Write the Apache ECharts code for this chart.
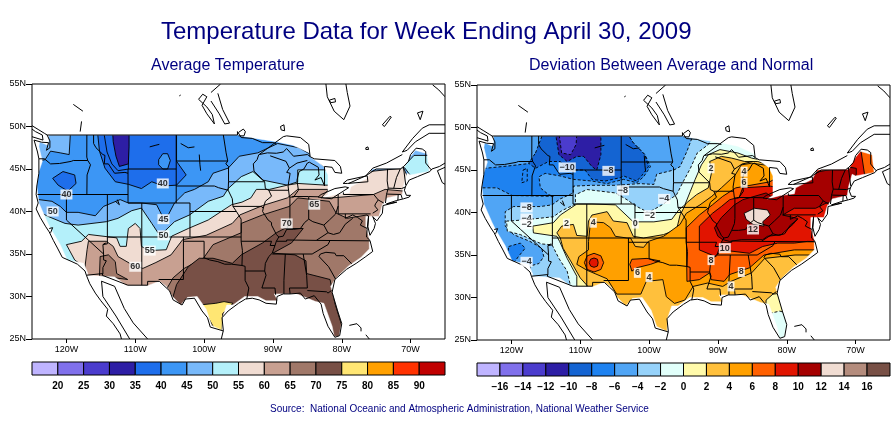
<!DOCTYPE html>
<html>
<head>
<meta charset="utf-8">
<title>Temperature Data</title>
<script src="https://cdn.jsdelivr.net/npm/echarts@6/dist/echarts.min.js"></script>
<style>
html, body { margin: 0; padding: 0; background: #fff; }
#chart { width: 895px; height: 423px; }
</style>
</head>
<body>
<div id="chart"></div>
<script>
var FONT = '"Liberation Sans", Arial, sans-serif';

// colour bars
var avgTicks = ['20','25','30','35','40','45','50','55','60','65','70','75','80','85','90'];
var devTicks = ['−16','−14','−12','−10','−8','−6','−4','−2','0','2','4','6','8','10','12','14','16'];
var avgColors = ['#bfb4ff','#8070eb','#4b3ccd','#2d1ea5','#1e6eeb','#3c96f5','#78b9fa','#b4f0fa','#f0dcd2','#c8a091','#a07869','#785046','#ffe673','#ffa000','#ff3200','#c00000'];
var devColors = ['#bfb4ff','#8070eb','#4b3ccd','#2d1ea5','#1464d2','#1e82f0','#50a5f5','#96d2fa','#e1fffa','#fffaaa','#ffc03c','#ffa000','#ff6000','#e11400','#a50000','#f0dcd2','#b48c7d','#785046'];

var lonTicks = [-120, -110, -100, -90, -80, -70];
var latTicks = [25, 30, 35, 40, 45, 50, 55];
var mapExtent = [[-125,25],[-65,25],[-65,55],[-125,55]];

// average temperature contours, [lon, lat], each one encloses the warmer (or colder) side
var avgWarm45 = [[-125.5,41],[-124,41.4],[-122.1,41.2],[-120.9,40.6],[-120,39.9],[-118.3,39.9],[-115.8,39.5],[-114.6,40.6],[-112.2,41.4],[-111,41],[-109.1,41],[-106.9,40.8],[-106.4,40],[-105.9,39.2],[-105.2,39.6],[-104.3,41],[-102.8,42.2],[-101.4,42.6],[-99.4,43.5],[-98.7,44.5],[-96.5,45.1],[-94.9,46.5],[-92.2,46.9],[-89.3,48],[-86.2,47.5],[-84.5,46.7],[-82.6,45.3],[-81.4,45.7],[-71.7,48.8],[-64.4,48.8],[-64.4,24],[-125.5,24]];
var avgWash45 = [[-125.5,49.5],[-119.4,49.5],[-119.6,46.7],[-120.9,46.9],[-122.3,47.1],[-123.1,46.1],[-125.5,45.7]];
var avgCold40 = [[-115.5,49.5],[-115.2,47.1],[-114.4,45.1],[-112.9,43.5],[-111,43.2],[-109.1,42.7],[-107.6,43.5],[-105.9,43],[-104,43.1],[-102.6,44.3],[-104,45.9],[-104,49.5]];
var avgOregon40 = [[-122,43.9],[-120.5,44.7],[-118.8,44.3],[-118.6,43.3],[-119.8,42.4],[-121.2,43.1]];
var avgMontana = [[-106.6,46.1],[-106,46.8],[-105.3,46.8],[-104.9,46],[-105.3,45],[-106,45],[-106.6,45.5]];
var avgInner = [[-114.6,49.5],[-114.1,47],[-113.4,45.6],[-112.5,44.8],[-111,45],[-111,49.5]];
var avgCold35 = [[-113.3,49.5],[-110.9,49.5],[-110.9,47.6],[-111,45.6],[-112.3,45.3],[-112.8,46.5],[-113.2,48.2]];
var avgWarm50 = [[-125.5,39.8],[-123.6,39.8],[-122.6,39.4],[-120.2,38.6],[-118.3,38.4],[-114.2,38.8],[-112.5,39.2],[-110.5,40.1],[-109.1,40.4],[-107.6,38.6],[-106.7,37.5],[-105.7,37.7],[-104.3,38.8],[-102.1,39.6],[-99.4,41.2],[-97.2,41.8],[-96.5,42.7],[-94.6,44.1],[-92.9,44.7],[-91.5,43.7],[-87.9,43.1],[-86.4,43.5],[-86.4,44.9],[-82.6,44.9],[-81.4,44.9],[-79,43.3],[-64.4,43.3],[-64.4,24],[-125.5,24]];
var avgMaine50 = [[-71,45.3],[-69.5,46.6],[-67.4,46.6],[-67.2,44.3],[-70,44.2]];
var avgWarm55 = [[-117.5,24],[-117.5,33.5],[-118.8,34.3],[-120,36.1],[-117.8,36.5],[-116.8,37.3],[-112.7,36.9],[-112.2,35.9],[-111.3,35.9],[-111,38],[-110,38.6],[-109.3,38],[-109.1,35.9],[-108.1,35.4],[-105.5,35.5],[-104.7,37.1],[-102.3,38],[-99.4,39],[-96,40.8],[-94.5,41.1],[-93.2,41.6],[-92.4,42.6],[-90.5,42.6],[-87.9,43.1],[-86.4,43.3],[-82.3,43.1],[-79.4,43.1],[-78.5,43.3],[-76.1,44.7],[-71,45.1],[-69.9,43.1],[-66.9,41],[-66.9,24]];
var avgWarm60 = [[-117.3,24],[-117.3,33.5],[-117,35.5],[-116.8,36.5],[-114.2,36.5],[-113.2,35.9],[-112.5,34.7],[-110.8,33.9],[-108.9,33.3],[-107,34],[-104.8,34.9],[-103.1,36.7],[-99.7,37.2],[-95.9,38.6],[-94.8,39.6],[-91.5,40.7],[-87.9,41.6],[-86.4,42.6],[-81.9,42.6],[-83,41.6],[-81.4,41.6],[-78.5,41.8],[-75.4,42],[-73.7,42.6],[-71,42.4],[-69.9,42],[-66.9,41],[-66.9,24]];
var avgWarm65 = [[-105.5,24],[-105.5,30.8],[-104.5,32.2],[-102.9,33.3],[-100.1,34.5],[-98.7,36.1],[-94.6,37.5],[-94.6,38.6],[-91.5,39.6],[-87.6,40.6],[-86.4,41.6],[-81.8,41.2],[-80.8,39.8],[-79.2,39.2],[-76.3,39.6],[-75.3,38.2],[-66.9,38.2],[-66.9,24]];
var avgArizona65 = [[-115.1,34.7],[-113.9,34.9],[-112.9,34.1],[-112.7,32.7],[-111.1,32],[-113,32.2],[-115.2,32.4]];
var avgWarm70 = [[-104.5,24],[-104.5,30],[-104,31.4],[-102.3,33.5],[-100.7,34.5],[-98.7,34.5],[-95.9,33.9],[-94.6,34.9],[-91.5,36.3],[-89.5,37.5],[-88.3,38],[-85.6,38],[-87.3,36.3],[-90,35.1],[-86.8,34.9],[-85.2,34.2],[-85.1,32.7],[-81.7,32],[-81.4,30.8],[-81,29.2],[-79,24]];
var avgWarm75 = [[-100.7,29],[-98.3,29.2],[-97.1,29.4],[-95.8,29.2],[-97.3,28],[-97.4,25.3],[-98.7,26.5],[-99.5,27.7]];

// deviation contours
var devMinus6 = [[-125.5,45.2],[-123.8,45.2],[-120.2,45.5],[-117,45.8],[-115.8,48],[-115.4,49.35],[-103.2,49.35],[-102.3,48.2],[-100.6,46.8],[-99.8,45.4],[-100.8,44.2],[-101.8,43.5],[-103.7,43.9],[-106.1,43.4],[-108.3,43.7],[-111,43.9],[-112.9,44.3],[-115.1,44.6],[-116,44.2],[-115.8,42.9],[-114.6,42.1],[-113.9,41.9],[-119.9,42],[-122.1,42.9],[-125.5,42.9]];
var devMinus8 = [[-116.5,47],[-115.4,49.35],[-103.2,49.35],[-102.3,48.2],[-100.6,46.8],[-100.1,45.4],[-101,44.4],[-101.8,43.7],[-103.7,44.3],[-104.2,44.1],[-106.4,43.7],[-108.3,43.9],[-109.3,45],[-111.9,45],[-112.9,46],[-114.6,46],[-116.5,45.2],[-117.5,45.8]];
var devMinus10 = [[-113.6,49.35],[-107,49.35],[-107,46.8],[-107.6,45],[-108.3,45.4],[-109.5,46.6],[-110.5,46.6],[-111.9,46],[-113.1,46.8]];
var devMinus12 = [[-113.1,49.35],[-110.5,49.35],[-110.6,48],[-111.4,46.8],[-112.7,47]];
var devSoCal = [[-120.4,36],[-118.7,36.4],[-118,35.8],[-119,34.8],[-119.7,34],[-120.6,34.4]];
var devIdaho = [[-118.3,45],[-117.7,45.2],[-117.7,43.7],[-118.5,43.5]];
var devMinus4 = [[-117,24],[-117,31.5],[-117.3,33.7],[-116,34],[-115.3,34.8],[-115.6,35.8],[-117.3,36.6],[-119.7,37.4],[-120.9,38.4],[-120.9,40.1],[-119.7,40.7],[-115.8,40.7],[-114.1,40.9],[-112.9,41.6],[-111,42.3],[-111,43.1],[-108.3,43.2],[-104.9,43.2],[-101.3,43.4],[-99.3,43.3],[-98.9,44.5],[-96.4,45],[-95.5,45.4],[-94.5,47.2],[-93.8,48.7],[-92.6,49.35],[-64,49.35],[-64,24]];
var devMinus2 = [[-111.4,24],[-111.4,31.3],[-111.9,33.1],[-113.1,34.6],[-114.1,36.2],[-115.6,36.3],[-117,36.8],[-118.7,37.4],[-120.6,37.8],[-120.7,39],[-120.2,39],[-117.3,39.2],[-113.9,39.5],[-112.7,40.2],[-110.7,41],[-110.7,42.1],[-109,42.7],[-104.9,42.3],[-103.2,41.5],[-102,40.8],[-100.1,40],[-98.1,40.9],[-96,42.1],[-95,43.7],[-94,45.2],[-93,47],[-91.4,48],[-90.2,49.5],[-64,49.5],[-64,24]];
var devZero = [[-110.5,24],[-110.5,32.5],[-111.9,34.6],[-113,36.6],[-113.4,37.2],[-116.8,37.6],[-116.9,38.4],[-113.9,38.8],[-112.9,39.7],[-110.5,41],[-108.3,41],[-104.9,40.9],[-102.3,38.9],[-99.3,38.9],[-96.7,39.2],[-95.7,40.3],[-94.8,40.9],[-94,42.5],[-93.3,43.9],[-92.4,45.6],[-91.4,46.8],[-89.7,47.4],[-87.1,47],[-85.1,46.4],[-83.9,46.2],[-64,46.4],[-64,24]];
var devPlus2 = [[-109,24],[-109,31.4],[-110,32.3],[-111.4,34.3],[-112.5,35.8],[-112.9,37],[-113.4,37.6],[-112.7,38.4],[-111,38.6],[-110.5,37.3],[-109,37.2],[-108.8,39],[-108.3,39.7],[-106.1,40.1],[-105.2,39],[-103.2,38.8],[-102.3,37.2],[-100.8,37],[-97.9,37.4],[-96,38],[-95.5,39.7],[-94.6,41.1],[-93.1,42.1],[-91.4,42.9],[-90.9,44.8],[-91.2,46],[-89.5,46.6],[-88,46.4],[-86.1,46],[-84.2,46],[-82.7,45.6],[-64,46.4],[-64,24]];
var devFloridaZero = [[-83,29.7],[-82,30.4],[-80.8,30.5],[-79.4,29.3],[-79.4,24.2],[-83.2,24.2]];
var devFloridaMinus2 = [[-83.2,28],[-81,28.4],[-79.4,28],[-79.4,24.2],[-83.2,24.2]];
var devPlus4 = [[-108.8,36.6],[-108.8,35.6],[-110.2,34.8],[-110.5,33.9],[-109,33.2],[-106.1,32.2],[-104.7,30.4],[-101.2,30.4],[-100.4,31.9],[-98,32.1],[-97.5,30.1],[-96.3,29.3],[-94.8,29.7],[-93.6,31.3],[-91.5,31.7],[-89.3,31.3],[-88.1,31.9],[-85.1,32.9],[-83.2,34.6],[-78.8,35],[-64.4,35],[-64,45.6],[-83.3,45.6],[-85.1,45.8],[-86.6,45.6],[-87.5,44.4],[-89.5,42.9],[-90.9,41.9],[-92.6,40.9],[-94.6,39.9],[-95.5,38.6],[-97.9,37.2],[-100.1,36.6],[-100.8,35.9],[-102,36],[-102.7,37],[-103.2,37],[-104.9,37.2],[-105.6,38.2],[-106.6,38.8],[-108.3,38.9],[-108.6,38.2]];
var devPlus6 = [[-94.5,31.9],[-94.6,38.2],[-92.7,39.7],[-90.8,40.9],[-89.3,41.9],[-87.4,42.9],[-82.5,43.6],[-76.2,46.4],[-64.1,48],[-64.1,35.6],[-78.9,35.6],[-83.3,35],[-85.4,33.5],[-88.3,32.7],[-89.1,31.9],[-91,32.1],[-91.2,32.9],[-92.7,32.1]];
var devTexas6 = [[-102.8,33.9],[-102.5,34.5],[-100.3,34.6],[-98.4,34.3],[-99.8,33.9],[-101.8,33.5],[-102.5,33.1]];
var devMexico6 = [[-108,35.2],[-107,34.9],[-106.6,34.1],[-107,33.3],[-108,33],[-109,33.3],[-109.4,34.1],[-109,34.9]];
var devMexico8 = [[-108,34.65],[-107.5,34.5],[-107.4,34.1],[-107.5,33.7],[-108,33.55],[-108.5,33.7],[-108.7,34.1],[-108.5,34.5]];
var devPlus8 = [[-92.7,35.6],[-92.7,38.4],[-90.8,39.9],[-89.5,40.7],[-88.3,41.5],[-86.9,41.8],[-86.4,42.9],[-82.4,43.1],[-79.6,42.7],[-75.8,44.5],[-75.5,45.2],[-70.7,47],[-69.2,47.2],[-68.7,44.5],[-64.1,44.5],[-64.1,36.4],[-77,36.6],[-78.9,36.4],[-81.3,36.4],[-83.5,36],[-85.4,35.2],[-89.5,35.6],[-90.3,34.8]];
var devPlus10 = [[-90.5,38.2],[-89.5,39.4],[-87.6,40.9],[-86.4,41.5],[-83,42.3],[-82.3,41.9],[-79.6,42.3],[-78.9,43.3],[-75.3,44.8],[-71.4,45.4],[-69.9,45.2],[-69.9,44.5],[-71.4,41.3],[-74.3,41.1],[-74.8,40.9],[-75.8,40.5],[-78.9,40.5],[-80.6,39.7],[-78.4,39.3],[-79.1,38.6],[-80.8,37.4],[-82.8,37.2],[-83.5,36.8],[-86.6,36.8],[-88.3,36.6],[-89.3,36.8],[-90,37.2]];
var devPlus12 = [[-86.2,39.9],[-84.7,40.5],[-82.8,40.3],[-82.4,39.7],[-83.5,38.9],[-83.3,38.4],[-84.9,38.6],[-85.9,39.2]];

// edge of the analysed field, same for both maps
var fieldEdge = [[-122.6,49],[-122.6,48.2],[-122.7,47.8],[-123.9,48.2],[-124,47.65],[-123.5,45.9],[-124,44.7],[-124.3,43],[-124,41],[-122.8,38.8],[-122.3,38],[-120.9,36.1],[-119.9,34.3],[-117.5,33.9],[-116.9,32.75],[-117,32.5],[-113,32.3],[-111.3,31.3],[-108.1,31.3],[-106.5,31.8],[-105.5,31.2],[-104.6,30],[-103.4,29],[-102.4,29.9],[-101,30],[-99.7,28.5],[-98.9,26.6],[-97.4,26],[-97.3,27.6],[-96.7,29],[-95.8,29],[-94.1,30],[-92.2,30],[-91,29.5],[-89.3,29.5],[-89.8,30.3],[-86.5,30.3],[-83.8,29.4],[-82.6,29.2],[-81.4,26.5],[-81.1,25.3],[-80.4,25.3],[-80,26.9],[-80.9,29.2],[-81.6,31.2],[-80.8,32.2],[-79,33.6],[-77.2,34.6],[-76,35.6],[-76,36.8],[-76.5,38.2],[-76.5,39.4],[-74.6,39.4],[-74.1,40.8],[-73.4,41.6],[-71.2,42],[-71,43.1],[-70.5,44.5],[-70,44.3],[-67.3,44.7],[-67.6,46.8],[-69.3,47.2],[-70,46.5],[-71,45.1],[-75.6,45],[-76.3,43.9],[-78.7,42.9],[-78.9,42.2],[-80.9,42],[-82.8,41.6],[-82,42],[-82,44.3],[-82.6,45.3],[-84.5,46.4],[-84.7,46.9],[-87.1,47.8],[-89.5,48.2],[-92.5,48.6],[-94.9,48.9],[-94.9,49],[-122.6,49]];

// state and national borders
var borders = [
  [[-122.8,49],[-95.15,49],[-95.15,49.4],[-94.6,48.7],[-93,48.6],[-91.5,48.1],[-90,48.1],[-89.5,48]],
  [[-124,46.2],[-123.2,46.2],[-122.3,45.6],[-121,45.65],[-119.3,45.9],[-119,46],[-116.9,46]],
  [[-117.03,49],[-117.04,46.4],[-116.9,46],[-116.5,45.5],[-117,44.3],[-117.03,42]],
  [[-124.2,42],[-111.05,42]],
  [[-120,42],[-120,39],[-114.6,35],[-114.6,34.3],[-114.2,34.2],[-114.7,33.4],[-114.7,32.7]],
  [[-117.1,32.5],[-114.7,32.7],[-114.8,32.5],[-111.07,31.33],[-108.2,31.33],[-108.2,31.78],[-106.5,31.78],[-105,30.65],[-104.5,29.6],[-103.2,29],[-102.7,29.7],[-101.4,29.8],[-100.3,28.3],[-99.5,27.5],[-99.1,26.4],[-97.2,25.95]],
  [[-114.05,42],[-114.05,36.2],[-114.7,36.1],[-114.6,35]],
  [[-114.05,37],[-94.62,37]],
  [[-116.05,49],[-116.05,48],[-115.7,47.5],[-114.7,46.7],[-114.4,46.6],[-114.5,45.6],[-113.9,45.6],[-113.5,45.1],[-113,44.5],[-111.5,44.6],[-111.05,44.5]],
  [[-111.05,45],[-104.05,45]],
  [[-111.05,45],[-111.05,41],[-102.05,41],[-102.05,37]],
  [[-104.05,49],[-104.05,41]],
  [[-109.05,41],[-109.05,31.33]],
  [[-104.05,45.94],[-96.56,45.94]],
  [[-104.05,43],[-98.5,43],[-97.9,42.8],[-96.5,42.5]],
  [[-102.05,40],[-95.3,40]],
  [[-103,37],[-103,32],[-106.6,32]],
  [[-103,36.5],[-100,36.5],[-100,34.56],[-99.2,34.3],[-98,34.1],[-97,33.8],[-96,33.8],[-94.5,33.65],[-94.04,33.55],[-94.04,31.9],[-93.5,31],[-93.7,30.1],[-93.8,29.7]],
  [[-94.62,36.5],[-94.43,35.4],[-94.5,33.65]],
  [[-94.62,36.5],[-94.62,39.1],[-95.3,40],[-95.8,40.6],[-95.9,41.5],[-96.5,42.5],[-96.45,43.5],[-96.45,45.3],[-96.85,45.6],[-96.56,45.94],[-96.8,46.9],[-97.2,49]],
  [[-95.8,40.6],[-91.7,40.6],[-91.4,40.4]],
  [[-96.45,43.5],[-91.2,43.5]],
  [[-92.05,46.7],[-92.3,46.1],[-92.85,45.6],[-92.75,44.75],[-91.2,43.5],[-91.1,42.7],[-90.6,42.5],[-90.2,41.8],[-91.1,41.2],[-91.4,40.4],[-91.5,40],[-90.7,39],[-90.2,38.7],[-90.2,38.4],[-89.5,37.3],[-89.15,37],[-89.5,36.5],[-89.7,36],[-90.1,35.1],[-90.6,34.7],[-91.1,33.9],[-91.2,33],[-91,32.5],[-91.6,31],[-89.7,31],[-89.6,30.2]],
  [[-90.6,42.5],[-87.8,42.5]],
  [[-90.4,46.55],[-88.1,45.9],[-87.6,45.1]],
  [[-87.53,41.7],[-87.53,39.3],[-87.6,38.7],[-88,37.9]],
  [[-89.15,37],[-88.5,37.1],[-88,37.9],[-87,37.9],[-86,38],[-85.4,38.7],[-84.8,39.1],[-84.2,38.8],[-83.6,38.65],[-82.6,38.4],[-81.8,39],[-80.9,39.7],[-80.52,40.64]],
  [[-84.8,39.1],[-84.8,41.7]],
  [[-87.2,41.76],[-84.8,41.76],[-83.45,41.73]],
  [[-80.52,42],[-80.52,39.72],[-75.8,39.72]],
  [[-79.48,39.72],[-79.48,39.2],[-78.4,39.6],[-77.7,39.3],[-77,38.9],[-77.3,38.4],[-76.3,38]],
  [[-79.76,42.25],[-79.76,42],[-75.35,42],[-74.7,41.36],[-75.1,40.9],[-75.2,40.65],[-74.75,40.2],[-75.5,39.8]],
  [[-74.7,41.36],[-73.9,41]],
  [[-73.35,45],[-73.4,43.6],[-73.25,42.75],[-73.5,42],[-73.65,41]],
  [[-71.5,45],[-72.05,44],[-72.45,42.73]],
  [[-73.25,42.75],[-71.3,42.7],[-70.8,42.87]],
  [[-73.5,42.05],[-71.4,42],[-71.2,41.5]],
  [[-71.8,42],[-71.85,41.3]],
  [[-71.05,45.3],[-70.7,43.1]],
  [[-79,43.3],[-76.5,44.2],[-75,45],[-71.5,45],[-71,45.3],[-70.3,45.9],[-70,46.7],[-69.2,47.45],[-68.3,47.35],[-67.8,47.05],[-67.8,45.7],[-67,44.9]],
  [[-89.5,36.5],[-88,36.5],[-88,36.65],[-83.7,36.6],[-75.9,36.55]],
  [[-83.7,36.6],[-82,37.5],[-82.6,38.4]],
  [[-82,37.5],[-81.2,37.3],[-80.3,37.5],[-79.5,38.5],[-78.4,39.2]],
  [[-94.62,36.5],[-90.2,36.5],[-90.4,36],[-89.7,36]],
  [[-90.1,35],[-84.3,35],[-82,36.1],[-81.7,36.6]],
  [[-94.04,33],[-91.2,33]],
  [[-88.2,35],[-88.4,31.9],[-88.4,30.3]],
  [[-85.6,35],[-85.1,32.5],[-85,31],[-87.6,31],[-87.5,30.3]],
  [[-85,30.7],[-82.2,30.55],[-82,30.4],[-81.5,30.7]],
  [[-83.1,35],[-83.3,34.7],[-81.9,33.5],[-80.9,32.05]],
  [[-83.1,35],[-82.3,35.2],[-81,35.1],[-80.8,34.8],[-79.7,34.8],[-78.55,33.85]]
];

// coasts, lakes and rivers
var coasts = [
  [[-125,50.1],[-124,49.6],[-123.2,49.2],[-122.8,49],[-122.4,48.3],[-122.4,47.5],[-122.9,47.2],[-122.6,48.1],[-123.6,48.15],[-124.7,48.4],[-124.2,47],[-124,46.2],[-124,44.5],[-124.3,43],[-124.4,42],[-124.1,41],[-124.4,40.3],[-123.8,39.3],[-123,38.2],[-122.5,37.6],[-121.9,36.6],[-121.3,35.7],[-120.6,34.6],[-119.2,34.1],[-118.4,33.8],[-117.3,33],[-117.1,32.5],[-116.6,31.5],[-115.8,30.4],[-115,29.5],[-114,28.5],[-114.2,27.7],[-113.2,26.8],[-112.2,25.6],[-112,25]],
  [[-125,48.8],[-123.4,48.4],[-123.5,49],[-124.5,49.4],[-125,49.7]],
  [[-110.8,25],[-112.8,27.7],[-114.7,30],[-114.9,31.8],[-113,31.2],[-111.6,28.6],[-110.3,26.9],[-108.2,25]],
  [[-97.5,25],[-97.2,26],[-97.4,27.5],[-96.5,28.3],[-95,29.2],[-94,29.7],[-93,29.8],[-92,29.6],[-91,29.2],[-89.5,29.1],[-89.4,30],[-88.5,30.3],[-87.5,30.3],[-86,30.4],[-85.3,29.7],[-84,30.1],[-83,29.1],[-82.7,28],[-82,26.5],[-81,25.2],[-80.3,25.4],[-80,26.8],[-80.6,28.3],[-81.4,30.5],[-81,32],[-79.3,33.2],[-77.9,33.9],[-76.5,34.7],[-75.5,35.3],[-75.9,36.6],[-76.4,37],[-76.3,38],[-76.1,39.5],[-76.2,38.2],[-75.9,37.2],[-75.3,38],[-75.1,38.6],[-75.5,39.4],[-74.9,38.9],[-74.1,39.8],[-74,40.7],[-72,41.1],[-73.5,40.9],[-72,41.3],[-71,41.5],[-70.2,41.7],[-70,41.9],[-70.6,41.9],[-70.9,42.5],[-70.7,43],[-70.2,43.7],[-69,44.1],[-67.2,44.7],[-66.9,45],[-65.8,45.3],[-65,45.7]],
  [[-78.9,26.6],[-77.8,26.8],[-77.2,26.3],[-77.2,25.9]],
  [[-76.5,25.5],[-76,25]],
  [[-65,45.2],[-66.1,44.8],[-65.4,43.4],[-65,43.2]],
  [[-65,50.2],[-67.3,50.2],[-68.3,49.8],[-69.7,48.6],[-71.2,47],[-70.5,47.2],[-69.3,48.2],[-67.3,49.2],[-65,49.2]],
  [[-71.2,46.7],[-73.5,45.7],[-75.5,45.1],[-76.5,44.2]],
  [[-92,46.7],[-90,47.9],[-88.5,48.8],[-88,48.9],[-86,48.7],[-84.8,47.9],[-84.6,46.5],[-85,46.7],[-87,46.5],[-88,47.4],[-88.5,47],[-89.5,46.85],[-90.8,46.9],[-92,46.7]],
  [[-85,46],[-86.5,45.7],[-87.6,45.1],[-88,44.6],[-87.5,44.5],[-87.8,43],[-87.6,41.7],[-87,41.7],[-86.3,42.5],[-86.5,43.7],[-86.2,44.7],[-85.5,45],[-85,45.7],[-84.7,45.8],[-83.4,45.2],[-83.3,44.3],[-83.9,43.7],[-83,44],[-82.5,43],[-82.5,45.3],[-81.4,45.2],[-81,44.6],[-80,44.5],[-80.2,45.3],[-81,46],[-84,46.2],[-84.7,46.5]],
  [[-83.45,41.7],[-81.5,41.5],[-79,42.8],[-79.5,42.9],[-81,42.7],[-83,42],[-83.45,41.7]],
  [[-79.8,43.3],[-79.2,43.3],[-76.2,43.5],[-76.3,44.2],[-77.5,44],[-79.2,43.7],[-79.8,43.3]],
  [[-100.8,53.2],[-100.2,53.8],[-99.6,53.5],[-100.3,52.5],[-99.6,51.5],[-98.5,50.3],[-98.8,51.4],[-99.6,52.3],[-100.8,53.2]],
  [[-99,54],[-97.6,55]],
  [[-98,53.9],[-97.3,52],[-96.3,50.4],[-97,50.3],[-97.8,51.5],[-99,53]],
  [[-95,49.3],[-94.3,49.7],[-94,49.4],[-94.2,48.9],[-95,48.9]],
  [[-82.3,55],[-82.1,53.5],[-81.1,51.8],[-79.7,50.8],[-78.8,52.4],[-79.2,54],[-79.4,55]],
  [[-81.8,53.1],[-81,53.3],[-80.9,52.9],[-81.6,52.8],[-81.8,53.1]],
  [[-66.8,54.9],[-65.9,54.3],[-65,53.5]],
  [[-88.9,50],[-88.4,50.2],[-88.3,49.5],[-88.8,49.6],[-88.9,50]],
  [[-74.1,50.2],[-73,51.2],[-72.8,51.1],[-73.8,50],[-74.1,50.2]],
  [[-69,51.6],[-68.2,51.8],[-68.6,50.8],[-69,51.6]],
  [[-76.5,47.5],[-76.2,47.6],[-76.1,47.3],[-76.5,47.3],[-76.5,47.5]],
  [[-103.6,53.6],[-103.4,53.7]],
  [[-119,52.6],[-117.6,51.8]],
  [[-117.8,50.6],[-118,49.4]],
  [[-107.9,47.6],[-107,47.8],[-106.5,47.9]],
  [[-103.4,48],[-102.3,47.5],[-101.4,47.6]],
  [[-100.7,46.7],[-100.6,45.5],[-100.5,44.8]],
  [[-112.9,41.2],[-112.3,40.8],[-112.6,41.4]],
  [[-122.5,38],[-122,38.1],[-122.3,37.5]],
  [[-114.6,36.2],[-114.2,36.3]]
];

// contour labels [lon, lat, text]
var avgLabels = [[-120,42,'40'],[-122,40,'50'],[-106,43.3,'40'],[-105.9,39.1,'45'],[-105.9,37.2,'50'],[-107.9,35.4,'55'],[-110,33.5,'60'],[-84,40.8,'65'],[-88,38.6,'70']];
var devLabels = [[-111.9,45.3,'−10'],[-105.9,44.9,'−8'],[-103.8,42.6,'−8'],[-97.8,41.6,'−4'],[-117.8,40.6,'−8'],[-117.8,39.3,'−4'],[-117.8,38.6,'−2'],[-99.9,39.7,'−2'],[-102,38.7,'0'],[-112,38.7,'2'],[-108.1,38.8,'4'],[-117.8,34.2,'−4'],[-101.7,32.9,'6'],[-100,32.4,'4'],[-91,34.4,'8'],[-89,35.8,'10'],[-84.9,38,'12'],[-86.6,33,'8'],[-88.1,31.3,'4'],[-91,45.2,'2'],[-86.2,44.8,'4'],[-86.2,43.5,'6']];

// [contour, colour index, negative contours are dashed]
var avgBands = [
  [mapExtent, 5], [avgWarm45, 6], [avgWash45, 6], [avgCold40, 4], [avgOregon40, 4], [avgInner, 4], [avgMontana, 5], [avgCold35, 3],
  [avgWarm50, 7], [avgMaine50, 7], [avgWarm55, 8], [avgWarm60, 9], [avgWarm65, 10], [avgArizona65, 10], [avgWarm70, 11], [avgWarm75, 12]
];
var devBands = [
  [mapExtent, 6], [devMinus6, 5, true], [devSoCal, 5, true], [devIdaho, 5, true], [devMinus8, 4, true], [devMinus10, 3, true], [devMinus12, 2, true],
  [devMinus4, 7, true], [devMinus2, 8, true], [devZero, 9], [devPlus2, 10], [devFloridaZero, 9], [devFloridaMinus2, 8, true],
  [devPlus4, 11], [devTexas6, 12], [devMexico6, 12], [devMexico8, 13], [devPlus6, 12], [devPlus8, 13], [devPlus10, 14], [devPlus12, 15]
];

function bandSeries(gridIndex, bands, colors) {
  return {
    type: 'custom', coordinateSystem: 'cartesian2d', xAxisIndex: gridIndex, yAxisIndex: gridIndex,
    clip: true, silent: true, z: 2,
    data: bands.map(function (b, i) { return i; }),
    renderItem: function (params, api) {
      var band = bands[params.dataIndex];
      return {
        type: 'polygon', z2: params.dataIndex,
        shape: { points: band[0].map(function (p) { return api.coord(p); }) },
        style: { fill: colors[band[1]], stroke: band[0] === mapExtent ? null : '#000', lineWidth: 0.9, lineDash: band[2] ? [3, 2] : null }
      };
    }
  };
}

// white everywhere outside the analysed field
function maskSeries(gridIndex) {
  var outer = [[-122.6,55],[-65,55],[-65,25],[-125,25],[-125,55],[-122.6,55]];
  var ring = outer.concat(fieldEdge, [[-122.6,55]]);
  return {
    type: 'custom', coordinateSystem: 'cartesian2d', xAxisIndex: gridIndex, yAxisIndex: gridIndex,
    clip: true, silent: true, z: 3, data: [0],
    renderItem: function (params, api) {
      return {
        type: 'polygon',
        shape: { points: ring.map(function (p) { return api.coord(p); }) },
        style: { fill: '#fff', stroke: '#fff', lineWidth: 0.5 }
      };
    }
  };
}

function lineSeries(gridIndex, lines) {
  return {
    type: 'custom', coordinateSystem: 'cartesian2d', xAxisIndex: gridIndex, yAxisIndex: gridIndex,
    clip: true, silent: true, z: 4,
    data: lines.map(function (l, i) { return i; }),
    renderItem: function (params, api) {
      return {
        type: 'polyline',
        shape: { points: lines[params.dataIndex].map(function (p) { return api.coord(p); }) },
        style: { fill: null, stroke: '#000', lineWidth: 1 }
      };
    }
  };
}

function labelSeries(gridIndex, labels) {
  return {
    type: 'scatter', xAxisIndex: gridIndex, yAxisIndex: gridIndex, z: 6, silent: true,
    symbolSize: 1, itemStyle: { color: 'rgba(0,0,0,0)' },
    data: labels,
    label: {
      show: true, position: 'inside', color: '#000', fontFamily: FONT, fontSize: 9, fontWeight: 'bold',
      backgroundColor: '#fff', padding: [1, 1, 0, 1],
      formatter: function (p) { return p.value[2]; }
    }
  };
}

function frameSeries(gridIndex) {
  return {
    type: 'custom', coordinateSystem: 'cartesian2d', xAxisIndex: gridIndex, yAxisIndex: gridIndex,
    clip: false, silent: true, z: 7, data: [0],
    renderItem: function (params, api) {
      return {
        type: 'polygon',
        shape: { points: mapExtent.map(function (p) { return api.coord(p); }) },
        style: { fill: null, stroke: '#000', lineWidth: 1 }
      };
    }
  };
}

function colorbarSeries(gridIndex, colors) {
  return {
    type: 'custom', coordinateSystem: 'cartesian2d', xAxisIndex: gridIndex, yAxisIndex: gridIndex,
    silent: true, data: colors.map(function (c, i) { return i; }),
    renderItem: function (params, api) {
      var a = api.coord([params.dataIndex, 0]);
      var b = api.coord([params.dataIndex + 1, 1]);
      return {
        type: 'rect',
        shape: { x: a[0], y: b[1], width: b[0] - a[0], height: a[1] - b[1] },
        style: { fill: colors[params.dataIndex], stroke: '#000', lineWidth: 1 }
      };
    }
  };
}

function mapX(gridIndex) {
  return {
    type: 'value', gridIndex: gridIndex, min: -125, max: -65, splitLine: { show: false }, axisLine: { show: false }, z: 8,
    axisTick: { show: true, length: 4, customValues: lonTicks, lineStyle: { color: '#000' } },
    axisLabel: { customValues: lonTicks, margin: 6, color: '#000', fontFamily: FONT, fontSize: 9, formatter: function (v) { return Math.abs(v) + 'W'; } }
  };
}
function mapY(gridIndex) {
  return {
    type: 'value', gridIndex: gridIndex, min: 25, max: 55, splitLine: { show: false }, axisLine: { show: false }, z: 8,
    axisTick: { show: true, length: 6, customValues: latTicks, lineStyle: { color: '#000' } },
    axisLabel: { customValues: latTicks, margin: 6, color: '#000', fontFamily: FONT, fontSize: 9, formatter: function (v) { return v + 'N'; } }
  };
}
function barX(gridIndex, ticks, count) {
  var positions = ticks.map(function (t, i) { return i + 1; });
  return {
    type: 'value', gridIndex: gridIndex, min: 0, max: count, splitLine: { show: false }, axisLine: { show: false }, axisTick: { show: false },
    axisLabel: { customValues: positions, margin: 6, color: '#000', fontFamily: FONT, fontSize: 10, fontWeight: 'bold', formatter: function (v) { return ticks[v - 1]; } }
  };
}
function barY(gridIndex) {
  return { type: 'value', gridIndex: gridIndex, min: 0, max: 1, show: false };
}

var chart = echarts.init(document.getElementById('chart'));
chart.setOption({
  animation: false,
  backgroundColor: '#fff',
  title: [
    { text: 'Temperature Data for Week Ending April 30, 2009', left: 161, top: 20, padding: 0, textStyle: { color: '#000080', fontFamily: FONT, fontSize: 24, fontWeight: 'normal' } },
    { text: 'Average Temperature', left: 151, top: 58, padding: 0, textStyle: { color: '#000080', fontFamily: FONT, fontSize: 16, fontWeight: 'normal' } },
    { text: 'Deviation Between Average and Normal', left: 529, top: 58, padding: 0, textStyle: { color: '#000080', fontFamily: FONT, fontSize: 16, fontWeight: 'normal' } },
    { text: 'Source:  National Oceanic and Atmospheric Administration, National Weather Service', left: 270, top: 404, padding: 0, textStyle: { color: '#000080', fontFamily: FONT, fontSize: 10, fontWeight: 'normal' } }
  ],
  grid: [
    { left: 32, top: 84, width: 413, height: 255 },
    { left: 477, top: 85, width: 413, height: 255 },
    { left: 32, top: 362, width: 413, height: 13 },
    { left: 477, top: 363, width: 413, height: 13 }
  ],
  xAxis: [mapX(0), mapX(1), barX(2, avgTicks, avgColors.length), barX(3, devTicks, devColors.length)],
  yAxis: [mapY(0), mapY(1), barY(2), barY(3)],
  series: [
    bandSeries(0, avgBands, avgColors), maskSeries(0), lineSeries(0, borders), lineSeries(0, coasts), labelSeries(0, avgLabels), frameSeries(0),
    bandSeries(1, devBands, devColors), maskSeries(1), lineSeries(1, borders), lineSeries(1, coasts), labelSeries(1, devLabels), frameSeries(1),
    colorbarSeries(2, avgColors), colorbarSeries(3, devColors)
  ]
});
</script>
</body>
</html>
